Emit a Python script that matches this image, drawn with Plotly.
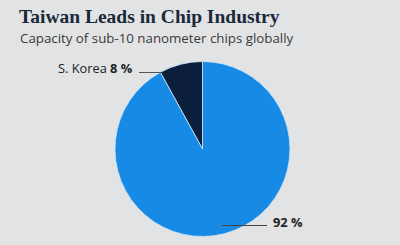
import plotly.graph_objects as go

# Data
labels = ["S. Korea", "Taiwan"]
values = [8, 92]
colors = ["#0b1e3c", "#178ae6"]

title = "Taiwan Leads in Chip Industry"
subtitle = "Capacity of sub-10 nanometer chips globally"

W, H = 400, 245

def px(x):
    return x / W

def py(y):
    return 1 - y / H

fig = go.Figure()
fig.add_trace(go.Pie(
    labels=labels,
    values=values,
    marker=dict(colors=colors, line=dict(color="#cfe6f5", width=0.8)),
    sort=False,
    direction="clockwise",
    rotation=-values[0] / 100 * 360,
    textinfo="none",
    hoverinfo="label+percent",
    showlegend=False,
    domain=dict(x=[px(115), px(290)], y=[py(237), py(61)]),
))

annotations = [
    dict(text=f"<b>{title}</b>", x=px(17), y=py(17), xref="paper", yref="paper",
         xanchor="left", yanchor="middle", showarrow=False,
         font=dict(family="Liberation Serif", size=19.5, color="#1b2838"),
         ),
    dict(text=subtitle, x=px(18), y=py(38), xref="paper", yref="paper",
         xanchor="left", yanchor="middle", showarrow=False,
         font=dict(family="Open Sans", size=13.3, color="#3a3a3a")),
    dict(text=f"{labels[0]} <b>{values[0]} %</b>", x=px(135), y=py(68),
         xref="paper", yref="paper", xanchor="right", yanchor="middle",
         showarrow=False, font=dict(family="Open Sans", size=12.8, color="#222222")),
    dict(text=f"<b>{values[1]} %</b>", x=px(271), y=py(222),
         xref="paper", yref="paper", xanchor="left", yanchor="middle",
         showarrow=False, font=dict(family="Open Sans", size=12.8, color="#222222")),
]

shapes = [
    dict(type="line", xref="paper", yref="paper", x0=px(139), x1=px(161),
         y0=py(72.5), y1=py(72.5), line=dict(color="#555555", width=1)),
    dict(type="line", xref="paper", yref="paper", x0=px(222), x1=px(267),
         y0=py(225.5), y1=py(225.5), line=dict(color="#444444", width=1)),
]

fig.update_layout(
    width=W, height=H,
    margin=dict(l=0, r=0, t=0, b=0),
    paper_bgcolor="#e1e3e5",
    plot_bgcolor="#e1e3e5",
    annotations=annotations,
    shapes=shapes,
)

fig.write_html("out.html")
